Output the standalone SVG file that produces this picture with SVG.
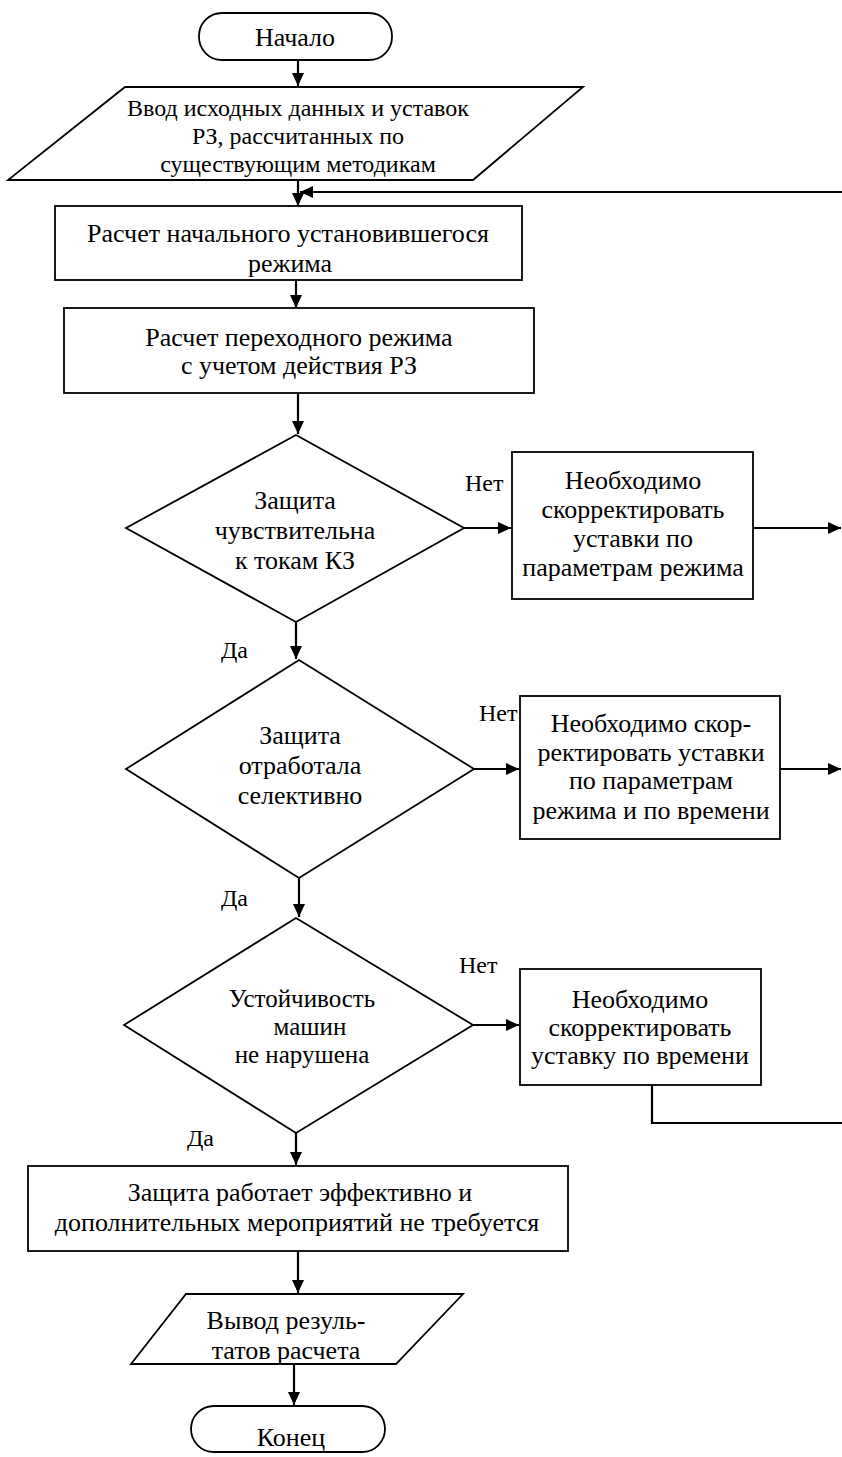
<svg xmlns="http://www.w3.org/2000/svg" width="842" height="1457" viewBox="0 0 842 1457">
<style>
.s{fill:#fff;stroke:#000;stroke-width:1.8}
.t{font-family:"Liberation Serif","Times New Roman",serif;font-size:26px;fill:#000;text-anchor:middle}
.m{font-size:24px}
.n{font-size:25px}
.l{font-family:"Liberation Serif","Times New Roman",serif;font-size:24px;fill:#000}
.c{fill:none;stroke:#000;stroke-width:2.2}
</style>
<defs>
<marker id="a" markerUnits="userSpaceOnUse" markerWidth="14" markerHeight="12" refX="13" refY="6" orient="auto">
<path d="M0,0 L13,6 L0,12 Z" fill="#000"/>
</marker>
</defs>
<rect width="842" height="1457" fill="#fff"/>
<g id="connectors">
<path class="c" d="M298,60 V86" marker-end="url(#a)"/>
<path class="c" d="M298,180 V206" marker-end="url(#a)"/>
<path class="c" d="M842,192 H300" marker-end="url(#a)"/>
<path class="c" d="M296,280 V308" marker-end="url(#a)"/>
<path class="c" d="M298,393 V434" marker-end="url(#a)"/>
<path class="c" d="M464,528 H511" marker-end="url(#a)"/>
<path class="c" d="M753,528 H841" marker-end="url(#a)"/>
<path class="c" d="M296,622 V659" marker-end="url(#a)"/>
<path class="c" d="M474,769 H519" marker-end="url(#a)"/>
<path class="c" d="M780,769 H841" marker-end="url(#a)"/>
<path class="c" d="M299,878 V917" marker-end="url(#a)"/>
<path class="c" d="M473,1025 H519" marker-end="url(#a)"/>
<path class="c" d="M652,1085 V1123 H842"/>
<path class="c" d="M296,1133 V1165" marker-end="url(#a)"/>
<path class="c" d="M298,1251 V1293" marker-end="url(#a)"/>
<path class="c" d="M294,1364 V1405" marker-end="url(#a)"/>
<text class="l" x="465" y="491">Нет</text>
<text class="l" x="221" y="658">Да</text>
<text class="l" x="479" y="721">Нет</text>
<text class="l" x="221" y="906">Да</text>
<text class="l" x="459" y="973">Нет</text>
<text class="l" x="187" y="1146">Да</text>
</g>
<g id="start">
<rect class="s" x="199" y="13" width="193" height="47" rx="23"/>
<text class="t" x="295" y="46">Начало</text>
</g>
<g id="input">
<polygon class="s" points="125,87 583,87 473,180 8,180"/>
<text class="t m" x="298" y="116">Ввод исходных данных и уставок</text>
<text class="t m" x="298" y="144">РЗ, рассчитанных по</text>
<text class="t m" x="298" y="172">существующим методикам</text>
</g>
<g id="calc1">
<rect class="s" x="55" y="206" width="467" height="74"/>
<text class="t" x="288" y="242">Расчет начального установившегося</text>
<text class="t" x="290" y="272">режима</text>
</g>
<g id="calc2">
<rect class="s" x="64" y="308" width="470" height="85"/>
<text class="t" x="299" y="346">Расчет переходного режима</text>
<text class="t" x="299" y="374">с учетом действия РЗ</text>
</g>
<g id="dec1">
<polygon class="s" points="296,435 464,528 296,622 126,528"/>
<text class="t" x="295" y="509">Защита</text>
<text class="t" x="295" y="539">чувствительна</text>
<text class="t" x="295" y="569">к токам КЗ</text>
</g>
<g id="fix1">
<rect class="s" x="512" y="452" width="241" height="147"/>
<text class="t" x="633" y="489">Необходимо</text>
<text class="t" x="633" y="518">скорректировать</text>
<text class="t" x="633" y="547">уставки по</text>
<text class="t" x="633" y="576">параметрам режима</text>
</g>
<g id="dec2">
<polygon class="s" points="299,660 474,769 299,878 126,769"/>
<text class="t" x="300" y="744">Защита</text>
<text class="t" x="300" y="774">отработала</text>
<text class="t" x="300" y="804">селективно</text>
</g>
<g id="fix2">
<rect class="s" x="520" y="696" width="260" height="143"/>
<text class="t" x="651" y="732">Необходимо скор-</text>
<text class="t" x="651" y="761">ректировать уставки</text>
<text class="t" x="651" y="789">по параметрам</text>
<text class="t" x="651" y="819">режима и по времени</text>
</g>
<g id="dec3">
<polygon class="s" points="296,918 473,1025 296,1133 124,1025"/>
<text class="t n" x="302" y="1007">Устойчивость</text>
<text class="t n" x="310" y="1035">машин</text>
<text class="t n" x="302" y="1063">не нарушена</text>
</g>
<g id="fix3">
<rect class="s" x="520" y="969" width="241" height="116"/>
<text class="t" x="640" y="1008">Необходимо</text>
<text class="t" x="640" y="1036">скорректировать</text>
<text class="t" x="640" y="1064">уставку по времени</text>
</g>
<g id="ok">
<rect class="s" x="28" y="1166" width="540" height="85"/>
<text class="t" x="300" y="1201">Защита работает эффективно и</text>
<text class="t" x="297" y="1231">дополнительных мероприятий не требуется</text>
</g>
<g id="output">
<polygon class="s" points="186,1294 463,1294 396,1364 131,1364"/>
<text class="t" x="286" y="1329">Вывод резуль-</text>
<text class="t" x="286" y="1359">татов расчета</text>
</g>
<g id="end">
<rect class="s" x="191" y="1406" width="194" height="46" rx="23"/>
<text class="t" x="291" y="1446">Конец</text>
</g>
</svg>
